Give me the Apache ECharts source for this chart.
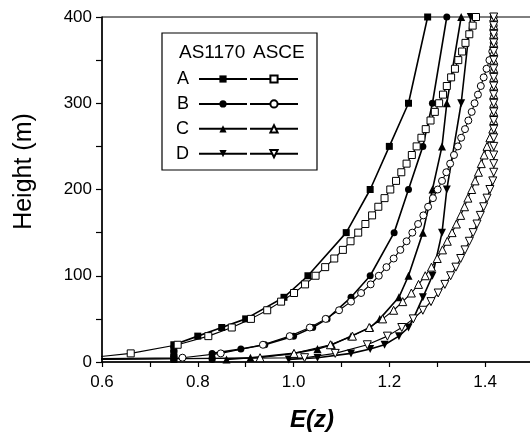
<!DOCTYPE html>
<html>
<head>
<meta charset="utf-8">
<script src="https://cdn.jsdelivr.net/npm/echarts@6/dist/echarts.min.js"></script>
<style>
  html, body { margin: 0; padding: 0; background: #fff; }
  #chart { width: 530px; height: 434px; }
</style>
</head>
<body>
<div id="chart"></div>
<script>
// AS1170 heights (m) and E(z) per terrain
var asHeights = [3, 5, 10, 15, 20, 30, 40, 50, 75, 100, 150, 200, 250, 300, 400];
var asA = [0.75, 0.75, 0.75, 0.75, 0.75, 0.80, 0.85, 0.90, 0.98, 1.03, 1.11, 1.16, 1.20, 1.24, 1.28];
var asB = [0.83, 0.83, 0.83, 0.89, 0.94, 1.00, 1.04, 1.07, 1.12, 1.16, 1.21, 1.24, 1.27, 1.29, 1.32];
var asC = [0.86, 0.91, 1.00, 1.05, 1.08, 1.12, 1.16, 1.18, 1.22, 1.24, 1.27, 1.29, 1.31, 1.32, 1.35];
var asD = [0.99, 1.05, 1.12, 1.16, 1.19, 1.22, 1.24, 1.25, 1.27, 1.29, 1.31, 1.32, null, 1.35, 1.37];

// ASCE heights (m) and E(z)
var asceHeights = [0, 5, 10, 20, 30, 40, 50, 60, 70, 80, 90, 100, 110, 120, 130, 140, 150, 160, 170, 180,
  190, 200, 210, 220, 230, 240, 250, 260, 270, 280, 290, 300, 310, 320, 330, 340, 350, 360, 370, 380, 390, 400];
var asceA = [0, 0.575, 0.660, 0.758, 0.822, 0.871, 0.911, 0.945, 0.974, 1.001, 1.024, 1.046, 1.066, 1.085,
  1.103, 1.119, 1.135, 1.150, 1.164, 1.177, 1.190, 1.202, 1.214, 1.225, 1.236, 1.247, 1.257, 1.267, 1.276,
  1.286, 1.295, 1.304, 1.312, 1.320, 1.329, 1.337, 1.344, 1.352, 1.359, 1.367, 1.374, 1.381];
var asceB = [0, 0.768, 0.848, 0.936, 0.992, 1.034, 1.067, 1.095, 1.120, 1.141, 1.161, 1.178, 1.194, 1.209,
  1.223, 1.236, 1.248, 1.260, 1.271, 1.281, 1.291, 1.301, 1.310, 1.319, 1.327, 1.335, 1.343, 1.350, 1.358,
  1.365, 1.372, 1.378, 1.385, 1.391, 1.397, 1.403, 1.409, 1.415, 1.418, 1.418, 1.418, 1.418];
var asceC = [0, 0.930, 1.001, 1.077, 1.123, 1.158, 1.186, 1.209, 1.228, 1.246, 1.261, 1.275, 1.288, 1.300,
  1.311, 1.321, 1.331, 1.340, 1.349, 1.357, 1.364, 1.372, 1.379, 1.386, 1.392, 1.398, 1.404, 1.410, 1.416,
  1.418, 1.418, 1.418, 1.418, 1.418, 1.418, 1.418, 1.418, 1.418, 1.418, 1.418, 1.418, 1.418];
var asceD = [0, 1.023, 1.087, 1.154, 1.196, 1.226, 1.250, 1.270, 1.287, 1.302, 1.316, 1.328, 1.339, 1.349,
  1.358, 1.367, 1.375, 1.383, 1.390, 1.397, 1.404, 1.410, 1.416, 1.418, 1.418, 1.418, 1.418, 1.418, 1.418,
  1.418, 1.418, 1.418, 1.418, 1.418, 1.418, 1.418, 1.418, 1.418, 1.418, 1.418, 1.418, 1.418];

var FONT = "'Liberation Sans', Arial, Helvetica, sans-serif";

function pairs(xs, hs) {
  return hs.map(function (h, i) { return [xs[i], h]; });
}

function asSeries(name, xs, symbol, size, rotate) {
  return {
    name: name,
    type: "line",
    data: pairs(xs, asHeights),
    connectNulls: true,
    symbol: symbol,
    symbolSize: size,
    symbolRotate: rotate || 0,
    lineStyle: { color: "#000", width: 1.6 },
    itemStyle: { color: "#000", borderColor: "#000", borderWidth: 0 },
    emphasis: { disabled: true },
    animation: false
  };
}

function asceSeries(name, xs, symbol, size, rotate) {
  return {
    name: name,
    type: "line",
    data: pairs(xs, asceHeights),
    symbol: symbol,
    symbolSize: size,
    symbolRotate: rotate || 0,
    showAllSymbol: true,
    lineStyle: { color: "#000", width: 1.1 },
    itemStyle: { color: "#fff", borderColor: "#000", borderWidth: 1 },
    emphasis: { disabled: true },
    animation: false
  };
}

var myChart = echarts.init(document.getElementById("chart"));

var legendBase = {
  orient: "vertical",
  top: 70,
  padding: 0,
  itemWidth: 48,
  itemHeight: 9,
  itemGap: 6.9,
  selectedMode: false,
  textStyle: { fontFamily: FONT, fontSize: 18, color: "#000" }
};

var option = {
  backgroundColor: "#fff",
  animation: false,
  grid: {
    left: 102,
    right: -3,
    top: 17,
    bottom: 72,
    show: true,
    borderColor: "#000",
    borderWidth: 1,
    backgroundColor: "transparent",
    outerBoundsMode: "none",
    containLabel: false
  },
  xAxis: {
    type: "value",
    min: 0.6,
    max: 1.5,
    interval: 0.1,
    name: "E(z)",
    nameLocation: "middle",
    nameGap: 46,
    nameTextStyle: { fontFamily: FONT, fontSize: 24, fontWeight: "bold", fontStyle: "italic", color: "#000", padding: [0, 11, 0, 0] },
    axisLine: { show: true, lineStyle: { color: "#000", width: 1.5 } },
    axisTick: { show: true, inside: false, length: 5, lineStyle: { color: "#000", width: 1.2 } },
    axisLabel: {
      margin: 12,
      fontFamily: FONT,
      fontSize: 17,
      color: "#000",
      showMaxLabel: false,
      formatter: function (v) {
        var k = Math.round(v * 10);
        return (k % 2 === 0 && k < 15) ? (k / 10).toFixed(1) : "";
      }
    },
    splitLine: { show: false }
  },
  yAxis: {
    type: "value",
    min: 0,
    max: 400,
    interval: 50,
    name: "Height (m)",
    nameLocation: "middle",
    nameRotate: 90,
    nameGap: 65,
    nameTextStyle: { fontFamily: FONT, fontSize: 25, color: "#000", padding: [0, 0, 0, 36] },
    axisLine: { show: true, lineStyle: { color: "#000", width: 1.5 } },
    axisTick: { show: true, inside: false, length: 6, lineStyle: { color: "#000", width: 1.2 } },
    axisLabel: {
      margin: 10,
      fontFamily: FONT,
      fontSize: 17,
      color: "#000",
      formatter: function (v) { return v % 100 === 0 ? String(v) : ""; }
    },
    splitLine: { show: false }
  },
  legend: [
    Object.assign({}, legendBase, {
      left: 176,
      align: "right",
      data: ["A", "B", "C", "D"],
      textStyle: { fontFamily: FONT, fontSize: 18, color: "#000", padding: [0, 5, 0, 0] }
    }),
    Object.assign({}, legendBase, {
      left: 249,
      align: "left",
      data: ["A ASCE", "B ASCE", "C ASCE", "D ASCE"],
      formatter: function () { return " "; }
    })
  ],
  graphic: [
    {
      type: "rect",
      shape: { x: 162, y: 33, width: 155, height: 137 },
      style: { fill: "transparent", stroke: "#000", lineWidth: 1.2 },
      silent: true
    },
    {
      type: "text",
      style: { x: 179, y: 53, text: "AS1170", fontFamily: FONT, fontSize: 19, fill: "#000", verticalAlign: "middle" },
      silent: true
    },
    {
      type: "text",
      style: { x: 253, y: 53, text: "ASCE", fontFamily: FONT, fontSize: 19, fill: "#000", verticalAlign: "middle" },
      silent: true
    }
  ],
  series: [
    asSeries("A", asA, "rect", 7),
    asSeries("B", asB, "circle", 7),
    asSeries("C", asC, "triangle", 8),
    asSeries("D", asD, "triangle", 8, 180),
    asceSeries("A ASCE", asceA, "rect", 7),
    asceSeries("B ASCE", asceB, "circle", 7),
    asceSeries("C ASCE", asceC, "triangle", 8),
    asceSeries("D ASCE", asceD, "triangle", 8, 180)
  ]
};

myChart.setOption(option);
</script>
</body>
</html>
